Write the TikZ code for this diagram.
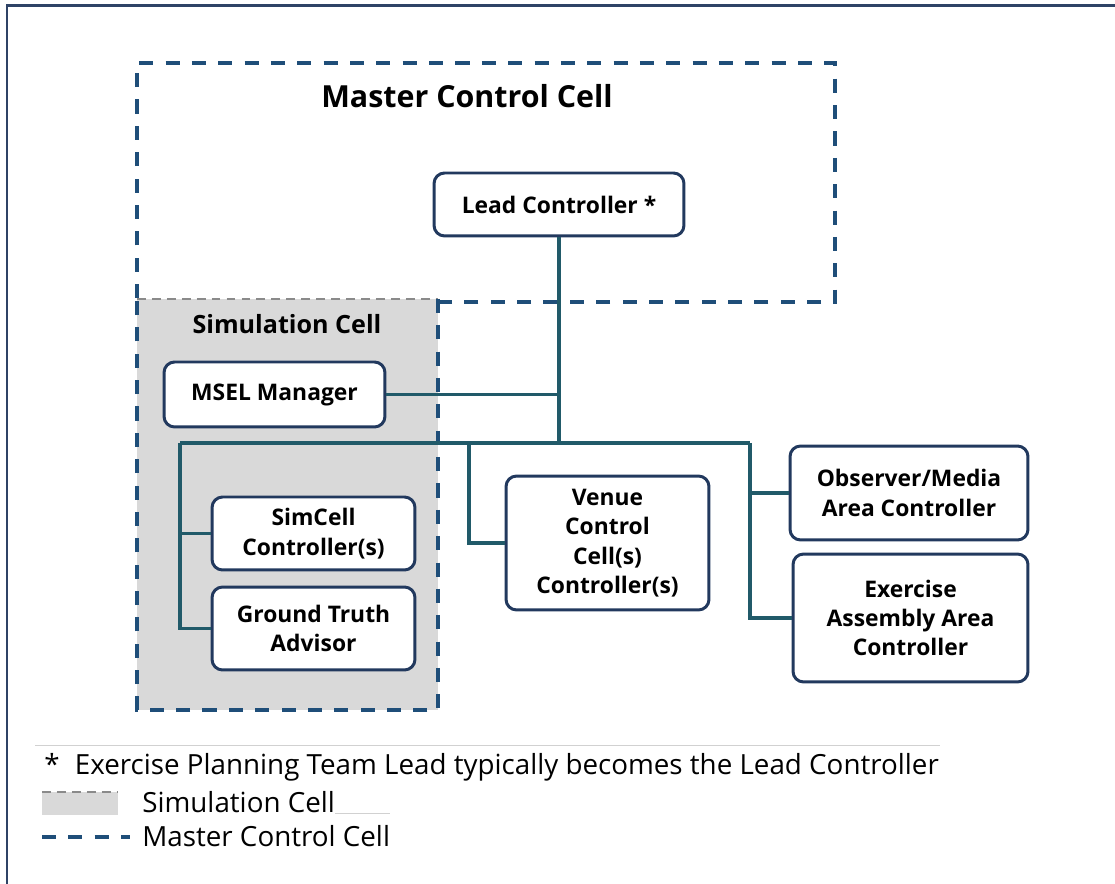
\documentclass[tikz,border=0pt]{standalone}
\usepackage{fontspec}
\setmainfont{Open Sans}
\usetikzlibrary{positioning}
\definecolor{framenavy}{HTML}{2F4366}
\definecolor{boxnavy}{HTML}{22395E}
\definecolor{cellblue}{HTML}{1F4E79}
\definecolor{linkteal}{HTML}{215A69}
\definecolor{simgray}{HTML}{D9D9D9}
\definecolor{simdash}{HTML}{8A8A8A}
\tikzset{
  ctrl/.style={draw=boxnavy, line width=1.7pt, fill=white, rounded corners=6pt,
    align=center, font=\fontsize{13}{16.7}\selectfont\bfseries, inner sep=2pt},
  link/.style={draw=linkteal, line width=1.9pt},
  mastercell/.style={draw=cellblue, line width=2pt, dash pattern=on 8pt off 7pt},
}
\begin{document}
\begin{tikzpicture}[x=0.02cm, y=-0.02cm]
  \useasboundingbox (0,0) rectangle (1115,884);
  % outer frame (cut off on right and bottom)
  \draw[framenavy, line width=1.7pt] (7,884) -- (7,6) -- (1115,6);

  % simulation cell
  \fill[simgray] (137,299) rectangle (438,710);
  \draw[simdash, line width=1pt, dash pattern=on 5pt off 3.5pt] (137,299) -- (438,299);
  \draw[mastercell] (438,299) -- (438,710) -- (137,710) -- (137,299);
  % master control cell
  \draw[mastercell] (137,298) -- (137,63) -- (835,63) -- (835,302) -- (438,302);

  \node(mcc) at (467,96) {\fontsize{17.3}{20}\selectfont\bfseries Master Control Cell};
  \node(simcell) at (287,324) {\fontsize{14.3}{16}\selectfont\bfseries Simulation Cell};

  \node(lead) [ctrl, minimum width=5cm, minimum height=1.26cm] at (559,204.5) {Lead Controller *};
  \node(msel) [ctrl, minimum width=4.42cm, minimum height=1.3cm] at (274.5,394.5) {MSEL Manager};
  \node(simctrl) [ctrl, minimum width=4.06cm, minimum height=1.46cm] at (313.5,533.5) {SimCell\\Controller(s)};
  \node(truth) [ctrl, minimum width=4.06cm, minimum height=1.66cm] at (313.5,628.5) {Ground Truth\\Advisor};
  \node(venue) [ctrl, minimum width=4.06cm, minimum height=2.68cm] at (607.5,543) {Venue\\Control\\Cell(s)\\Controller(s)};
  \node(media) [ctrl, minimum width=4.76cm, minimum height=1.88cm] at (909,493) {Observer/Media\\Area Controller};
  \node(assembly) [ctrl, minimum width=4.7cm, minimum height=2.56cm] at (910.5,618) {Exercise\\Assembly Area\\Controller};

  % connectors
  \coordinate(busL) at (180,443);
  \coordinate(busV) at (469,443);
  \coordinate(busR) at (750,443);
  \draw[link] (lead.south) -- (lead.south |- busL);
  \draw[link] (msel.east) -- (msel.east -| lead.south);
  \draw[link] (busL) -- (busR);
  \draw[link] (busL) |- (truth.west);
  \draw[link] (busL |- simctrl.west) -- (simctrl.west);
  \draw[link] (busV) |- (venue.west);
  \draw[link] (busR) |- (assembly.west);
  \draw[link] (busR |- media.west) -- (media.west);

  % legend
  \draw[black!18, line width=0.5pt] (35,745) -- (940,745);
  \draw[black!18, line width=0.5pt] (335,813) -- (390,813);
  \node(note) [anchor=west, inner sep=0pt] at (44,767) {\fontsize{15.8}{18}\selectfont *\hspace{0.55em}Exercise Planning Team Lead typically becomes the Lead Controller};
  \fill[simgray] (42,792) rectangle (118,815);
  \draw[simdash, line width=1pt, dash pattern=on 5pt off 3.5pt] (42,792) -- (118,792);
  \node(simkey) [anchor=west, inner sep=0pt] at (142,802) {\fontsize{15.8}{18}\selectfont Simulation Cell};
  \draw[mastercell] (42,837) -- (130,837);
  \node(mcckey) [anchor=west, inner sep=0pt] at (142,836) {\fontsize{15.8}{18}\selectfont Master Control Cell};
\end{tikzpicture}
\end{document}
